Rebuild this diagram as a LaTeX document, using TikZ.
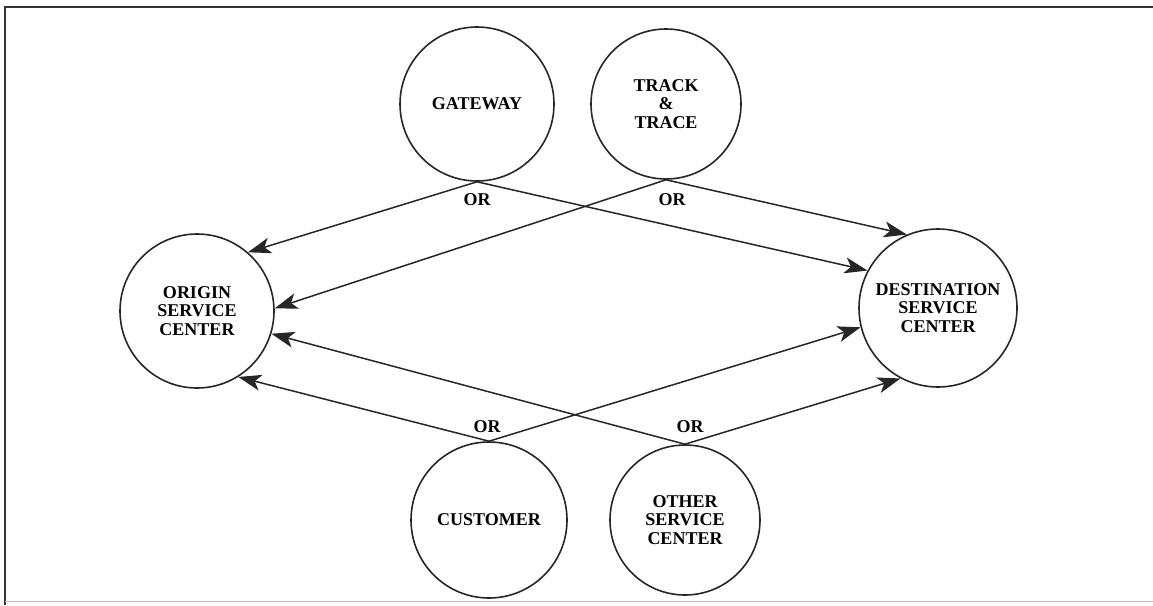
\documentclass[tikz,border=0pt]{standalone}
\usepackage{fontspec}
\setmainfont{Liberation Serif}
\usetikzlibrary{arrows.meta}
\begin{document}
\begin{tikzpicture}[x=1pt,y=-1pt,
  bubble/.style={circle,draw=black!85,line width=1.6pt,inner sep=0pt,
    minimum size=154pt,align=center,font=\fontsize{18}{18.5}\selectfont\bfseries},
  flow/.style={draw=black!85,line width=1.5pt,
    -{Stealth[length=23pt,width=16pt,inset=6pt]}},
  orlabel/.style={font=\fontsize{18}{18.5}\selectfont\bfseries,inner sep=0pt}]
  \useasboundingbox (0,0) rectangle (1153,605);
  % page frame (open on the right)
  \draw[line width=2.2pt,black!80] (1160,7) -- (5,7) -- (5,605);
  \draw[line width=1pt,black!25] (5,601) -- (1160,601);

  % processes
  \node[bubble] (gw)  at (477,104) {GATEWAY};
  \node[bubble,minimum size=150pt] (tt) at (666,104) {TRACK\\\&\\TRACE};
  \node[bubble] (org) at (197,311) {ORIGIN\\SERVICE\\CENTER};
  \node[bubble,minimum size=158pt] (dst) at (938,308) {DESTINATION\\SERVICE\\CENTER};
  \node[bubble,minimum size=156pt] (cu)  at (489,520) {CUSTOMER};
  \node[bubble,minimum size=150pt] (osc) at (685,520) {OTHER\\SERVICE\\CENTER};

  % alternatives
  \node[orlabel] (or1) at (477,200) {OR};
  \node[orlabel] (or2) at (672,200) {OR};
  \node[orlabel] (or3) at (487,427) {OR};
  \node[orlabel] (or4) at (690,427) {OR};

  % flows
  \draw[flow] (gw.south) -- (org.49);
  \draw[flow] (gw.south) -- (dst.152);
  \draw[flow] (tt.south) -- (org.2);
  \draw[flow] (tt.south) -- (dst.113);
  \draw[flow] (cu.north) -- (org.-58);
  \draw[flow] (cu.north) -- (dst.194);
  \draw[flow] (osc.north) -- (org.-17);
  \draw[flow] (osc.north) -- (dst.242);
\end{tikzpicture}
\end{document}
